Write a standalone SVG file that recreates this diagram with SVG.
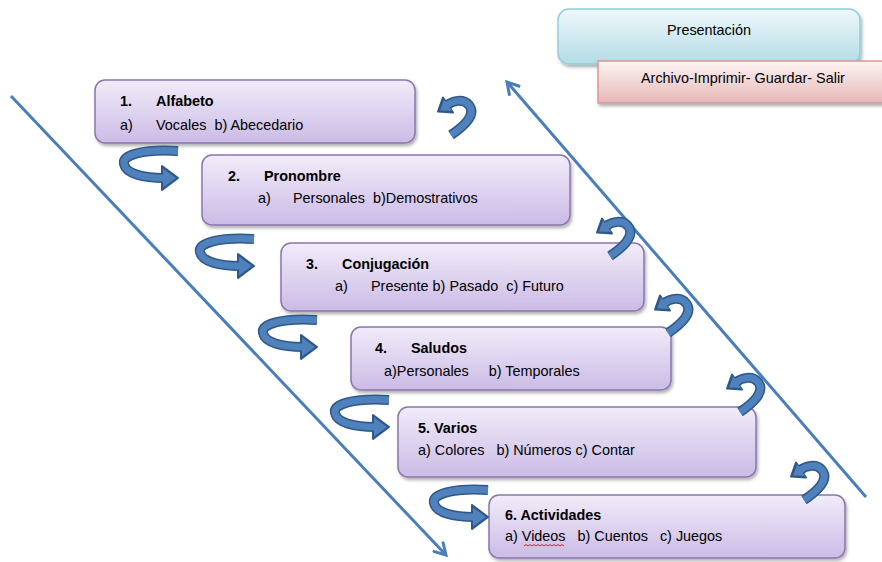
<svg xmlns="http://www.w3.org/2000/svg" xmlns:xlink="http://www.w3.org/1999/xlink" width="882" height="562" viewBox="0 0 882 562">
<style>
.box{fill:url(#gPurple);stroke:#8a76ac;stroke-width:1.5;filter:url(#sh)}
.t{font-family:"Liberation Sans",Arial,sans-serif;font-size:14.4px;fill:#000}
.b{font-weight:bold}
.ln{fill:none;stroke:#4a7ebb;stroke-width:3}
</style>
<defs>
<linearGradient id="gPurple" x1="0" y1="0" x2="0" y2="1">
<stop offset="0" stop-color="#f1ecf9"/>
<stop offset="1" stop-color="#cbbbe6"/>
</linearGradient>
<linearGradient id="gBlue" x1="0" y1="0" x2="0" y2="1">
<stop offset="0" stop-color="#eef8fa"/>
<stop offset="1" stop-color="#b4dce7"/>
</linearGradient>
<linearGradient id="gPink" x1="0" y1="0" x2="0" y2="1">
<stop offset="0" stop-color="#fdf4f4"/>
<stop offset="1" stop-color="#e5b7b6"/>
</linearGradient>
<filter id="sh" x="-5%" y="-10%" width="112%" height="130%">
<feDropShadow dx="1.5" dy="2.5" stdDeviation="1.5" flood-color="#000" flood-opacity="0.3"/>
</filter>
<marker id="ah" markerWidth="16" markerHeight="16" refX="13" refY="8" orient="auto" markerUnits="userSpaceOnUse">
<path d="M1 1 L13 8 L1 15" fill="none" stroke="#4a7ebb" stroke-width="3"/>
</marker>
<g id="carL">
<path d="M56 4 C20 2,0 8,2 17 C4 27,22 31,42 31" fill="none" stroke="#2f5888" stroke-width="10"/>
<polygon points="40,19 56,31 40,43" fill="#2f5888" stroke="#2f5888" stroke-width="2" stroke-linejoin="round"/>
<path d="M56 4 C20 2,0 8,2 17 C4 27,22 31,42 31" fill="none" stroke="#4f81bd" stroke-width="7"/>
<polygon points="41,21.5 54,31 41,40.5" fill="#4f81bd"/>
</g>
<g id="carR">
<path d="M16 38 C28 30,42 18,34 8 C28 1,18 4,12 8" fill="none" stroke="#2f5888" stroke-width="10"/>
<polygon points="18,15.5 8,0.5 3,14.6" fill="#2f5888" stroke="#2f5888" stroke-width="2" stroke-linejoin="round"/>
<path d="M16 38 C28 30,42 18,34 8 C28 1,18 4,12 8" fill="none" stroke="#4f81bd" stroke-width="7"/>
<polygon points="17,14 9,2.5 5,13.5" fill="#4f81bd"/>
</g>
</defs>

<g id="presentacion">
<rect x="558" y="9" width="302" height="55" rx="11" fill="url(#gBlue)" stroke="#92cddc" stroke-width="1.5" filter="url(#sh)"/>
<text class="t" x="709" y="35" text-anchor="middle">Presentación</text>
</g>
<g id="archivo">
<rect x="598" y="61" width="290" height="42" fill="url(#gPink)" stroke="#d99694" stroke-width="1.5" filter="url(#sh)"/>
<text class="t" x="641" y="83">Archivo-Imprimir- Guardar- Salir</text>
</g>

<g id="n1">
<rect class="box" x="95" y="80" width="320" height="63" rx="10"/>
<text class="t b" x="120" y="106">1.</text>
<text class="t b" x="156" y="106">Alfabeto</text>
<text class="t" x="120" y="130">a)</text>
<text class="t" x="156" y="130" xml:space="preserve">Vocales  b) Abecedario</text>
</g>
<g id="n2">
<rect class="box" x="202" y="155" width="368" height="70" rx="10"/>
<text class="t b" x="228" y="181">2.</text>
<text class="t b" x="264" y="181">Pronombre</text>
<text class="t" x="258" y="203">a)</text>
<text class="t" x="293" y="203" xml:space="preserve">Personales  b)Demostrativos</text>
</g>
<g id="n3">
<rect class="box" x="281" y="243" width="363" height="68" rx="10"/>
<text class="t b" x="306" y="269">3.</text>
<text class="t b" x="342" y="269">Conjugación</text>
<text class="t" x="335" y="291">a)</text>
<text class="t" x="371" y="291" xml:space="preserve">Presente b) Pasado  c) Futuro</text>
</g>
<g id="n4">
<rect class="box" x="351" y="327" width="320" height="63" rx="10"/>
<text class="t b" x="375" y="353">4.</text>
<text class="t b" x="411" y="353">Saludos</text>
<text class="t" x="384" y="376" xml:space="preserve">a)Personales     b) Temporales</text>
</g>
<g id="n5">
<rect class="box" x="398" y="407" width="358" height="70" rx="10"/>
<text class="t b" x="418" y="433">5. Varios</text>
<text class="t" x="418" y="455" xml:space="preserve">a) Colores   b) Números c) Contar</text>
</g>
<g id="n6">
<rect class="box" x="489" y="495" width="356" height="63" rx="10"/>
<text class="t b" x="505" y="520">6. Actividades</text>
<text class="t" x="505" y="541" xml:space="preserve">a) Videos   b) Cuentos   c) Juegos</text>
<path d="M524 546 l2 -1.5 l2 1.5 l2 -1.5 l2 1.5 l2 -1.5 l2 1.5 l2 -1.5 l2 1.5 l2 -1.5 l2 1.5 l2 -1.5 l2 1.5 l2 -1.5 l2 1.5 l2 -1.5 l2 1.5 l2 -1.5 l2 1.5 l2 -1.5 l2 1.5" fill="none" stroke="#e02020" stroke-width="1"/>
</g>

<g id="connectors">
<line class="ln" x1="11" y1="96" x2="446" y2="555" marker-end="url(#ah)"/>
<line class="ln" x1="866" y1="497" x2="507" y2="82" marker-end="url(#ah)"/>
<use href="#carL" x="122" y="147"/>
<use href="#carL" x="198" y="235"/>
<use href="#carL" x="261" y="316"/>
<use href="#carL" x="333" y="396"/>
<use href="#carL" x="432" y="486"/>
<use href="#carR" x="435" y="97"/>
<use href="#carR" x="594" y="218"/>
<use href="#carR" x="652" y="295"/>
<use href="#carR" x="724" y="374"/>
<use href="#carR" x="788" y="462"/>
</g>
</svg>
